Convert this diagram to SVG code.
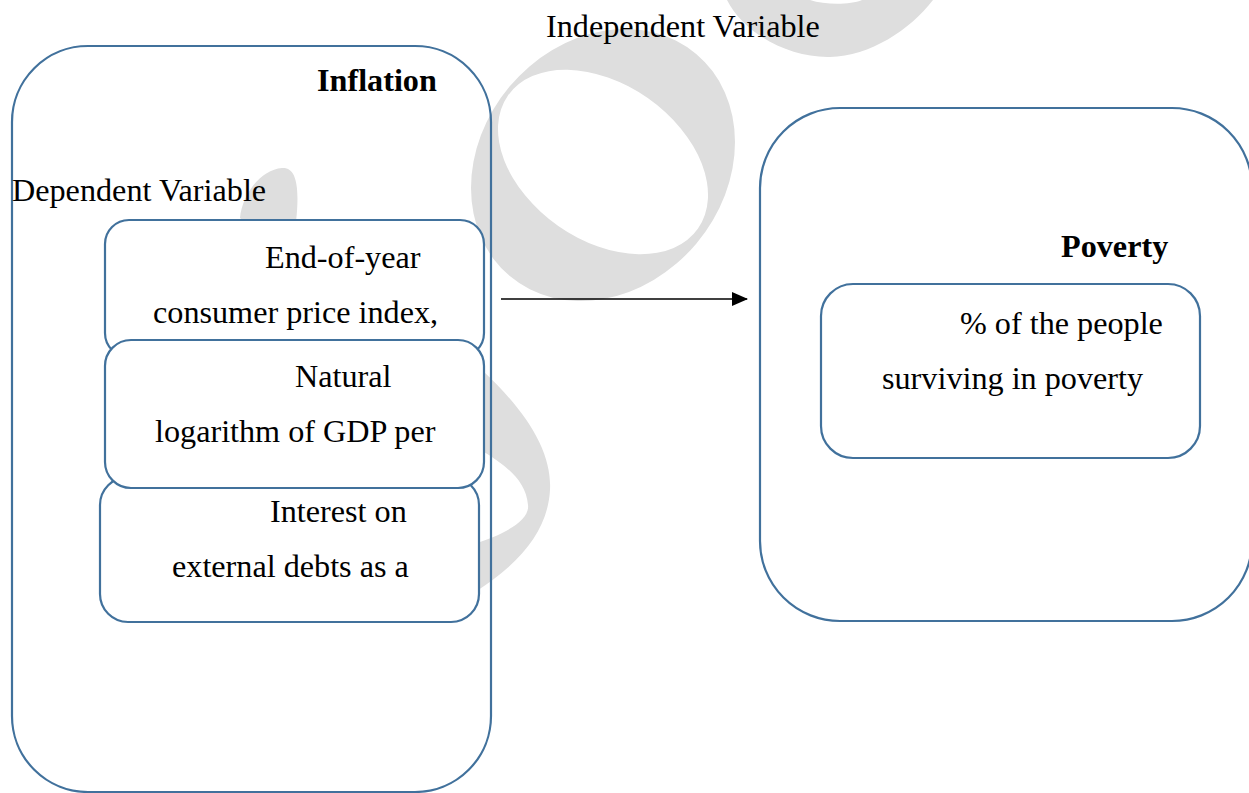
<svg xmlns="http://www.w3.org/2000/svg" width="1249" height="793" viewBox="0 0 1249 793">
  <style>
    .box { fill: none; stroke: #41719C; stroke-width: 2.2; }
    .inner { fill: #ffffff; stroke: #41719C; stroke-width: 2.2; }
    .t { font-family: "Liberation Serif", "Times New Roman", serif; font-size: 32.2px; fill: #000000; }
    .b { font-weight: bold; }
    .wm { fill: #dedede; }
  </style>
  <defs>
    <marker id="arrow" markerWidth="16" markerHeight="14" refX="15" refY="7" orient="auto" markerUnits="userSpaceOnUse">
      <path d="M0,0 L16,7 L0,14 Z" fill="#000000"/>
    </marker>
  </defs>
  <rect width="1249" height="793" fill="#ffffff"/>

  <g id="watermark">
    <ellipse class="wm" cx="603" cy="165" rx="145" ry="122" transform="rotate(-50 603 165)"/>
    <ellipse fill="#ffffff" cx="603" cy="162" rx="116" ry="78" transform="rotate(35 603 162)"/>
    <path class="wm" fill-rule="evenodd" d="M 727 0 C 745 35 790 58 830 57 C 870 56 910 30 933 0 Z M 810 0 C 825 5 850 5 862 0 Z"/>
    <path class="wm" d="M 240 218 C 242 195 260 170 282 168 C 296 167 300 185 296 222 C 360 280 440 330 484 372 C 530 415 552 455 550 490 C 548 530 520 565 470 595 L 470 545 C 505 535 530 520 528 505 C 526 480 505 465 484 452 C 420 400 330 300 240 218 Z"/>
  </g>

  <g id="inflation">
    <rect class="box" x="12" y="46" width="479" height="746" rx="76" ry="76"/>
    <text class="t b" x="317" y="91">Inflation</text>
  </g>

  <g id="dependent-label">
    <text class="t" x="12" y="201">Dependent Variable</text>
  </g>

  <g id="independent-label">
    <text class="t" x="546" y="37">Independent Variable</text>
  </g>

  <g id="cpi">
    <rect class="inner" x="105" y="220" width="379" height="137" rx="24" ry="24"/>
    <text class="t" x="265" y="268">End-of-year</text>
    <text class="t" x="153" y="323">consumer price index,</text>
  </g>

  <g id="interest">
    <rect class="inner" x="100" y="477" width="379" height="145" rx="28" ry="28"/>
    <text class="t" x="270" y="522">Interest on</text>
    <text class="t" x="172" y="577">external debts as a</text>
  </g>

  <g id="gdp">
    <rect class="inner" x="105" y="340" width="379" height="148" rx="26" ry="26"/>
    <text class="t" x="295" y="387">Natural</text>
    <text class="t" x="155" y="442">logarithm of GDP per</text>
  </g>

  <g id="poverty">
    <rect class="box" x="760" y="108" width="492" height="513" rx="80" ry="80"/>
    <text class="t b" x="1061" y="257">Poverty</text>
  </g>

  <g id="poverty-measure">
    <rect class="inner" x="821" y="284" width="379" height="174" rx="32" ry="32"/>
    <text class="t" x="960" y="334">% of the people</text>
    <text class="t" x="882" y="389">surviving in poverty</text>
  </g>

  <g id="connectors">
    <line x1="501" y1="299" x2="747" y2="299" stroke="#000000" stroke-width="1.6" marker-end="url(#arrow)"/>
  </g>
</svg>
